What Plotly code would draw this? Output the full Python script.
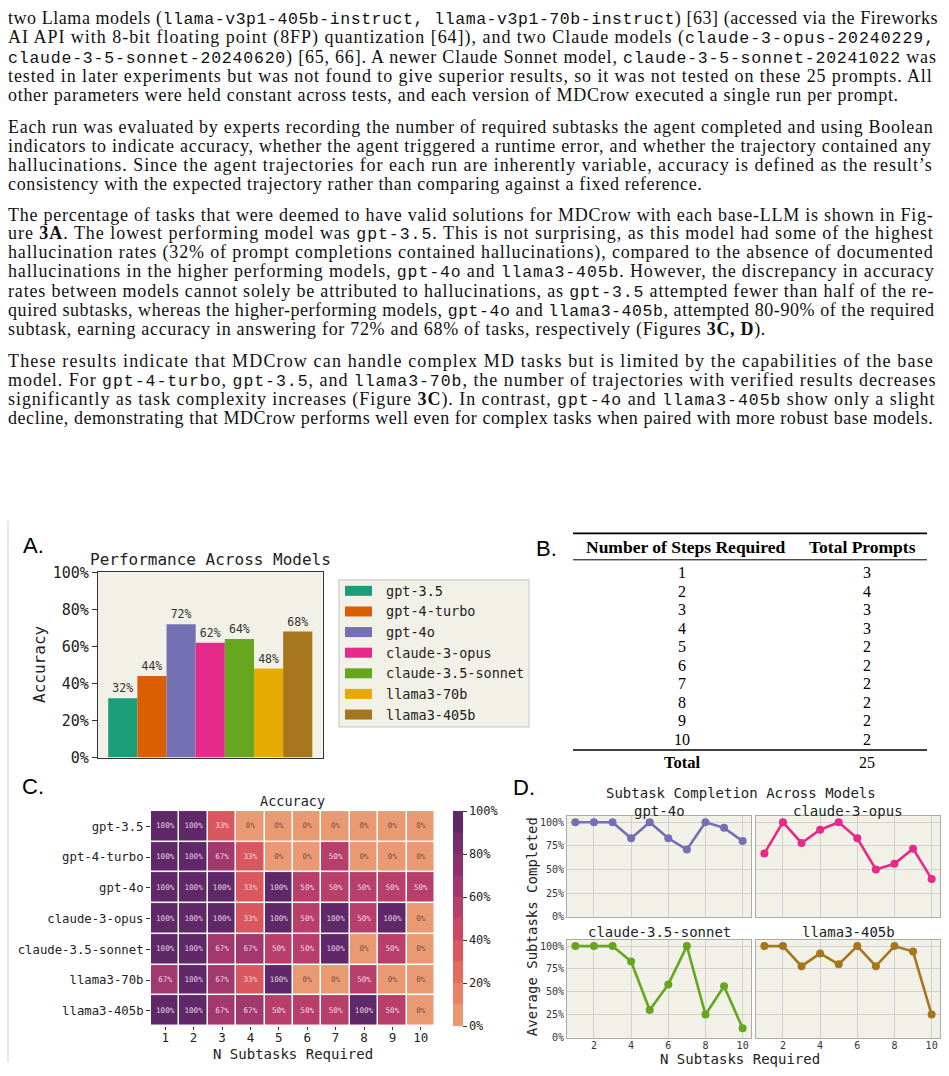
import re
import plotly.graph_objects as go

W, H = 949, 1076


def fx(p):
    return p / W


def fy(p):
    # small vertical stretch for the lower half of the page
    q = p + 0.018 * max(0.0, p - 550)
    return 1 - q / H


# ---------------------------------------------------------------- data
models = ["gpt-3.5", "gpt-4-turbo", "gpt-4o", "claude-3-opus",
          "claude-3.5-sonnet", "llama3-70b", "llama3-405b"]
accuracy = [0.32, 0.44, 0.72, 0.62, 0.64, 0.48, 0.68]
model_colors = ["#1b9e77", "#d95f02", "#7570b3", "#e7298a",
                "#66a61e", "#e6ab02", "#a6761d"]

steps_required = ["1", "2", "3", "4", "5", "6", "7", "8", "9", "10"]
total_prompts = [3, 4, 3, 3, 2, 2, 2, 2, 2, 2]

n_subtasks = [1, 2, 3, 4, 5, 6, 7, 8, 9, 10]
acc_gpt35 = [100, 100, 33, 0, 0, 0, 0, 0, 0, 0]
acc_gpt4turbo = [100, 100, 67, 33, 0, 0, 50, 0, 0, 0]
acc_gpt4o = [100, 100, 100, 33, 100, 50, 50, 50, 50, 50]
acc_opus = [100, 100, 100, 33, 100, 50, 100, 50, 100, 0]
acc_sonnet = [100, 100, 67, 67, 50, 50, 100, 0, 50, 0]
acc_llama70 = [67, 100, 67, 33, 100, 0, 0, 50, 0, 0]
acc_llama405 = [100, 100, 67, 67, 50, 50, 50, 100, 50, 0]
heat_rows = [acc_gpt35, acc_gpt4turbo, acc_gpt4o, acc_opus,
             acc_sonnet, acc_llama70, acc_llama405]

sub_models = ["gpt-4o", "claude-3-opus", "claude-3.5-sonnet", "llama3-405b"]
sub_gpt4o = [1.00, 1.00, 1.00, 0.83, 1.00, 0.83, 0.71, 1.00, 0.94, 0.80]
sub_opus = [0.67, 1.00, 0.78, 0.92, 1.00, 0.83, 0.50, 0.56, 0.72, 0.40]
sub_sonnet = [1.00, 1.00, 1.00, 0.83, 0.30, 0.58, 1.00, 0.25, 0.56, 0.10]
sub_llama405 = [1.00, 1.00, 0.78, 0.92, 0.80, 1.00, 0.78, 1.00, 0.94, 0.25]
sub_values = [sub_gpt4o, sub_opus, sub_sonnet, sub_llama405]

paragraphs = [
    [
        "two Llama models (`llama-v3p1-405b-instruct, llama-v3p1-70b-instruct`) [63] (accessed via the Fireworks",
        "AI API with 8-bit floating point (8FP) quantization [64]), and two Claude models (`claude-3-opus-20240229,`",
        "`claude-3-5-sonnet-20240620`) [65, 66]. A newer Claude Sonnet model, `claude-3-5-sonnet-20241022` was",
        "tested in later experiments but was not found to give superior results, so it was not tested on these 25 prompts. All",
        "other parameters were held constant across tests, and each version of MDCrow executed a single run per prompt.",
    ],
    [
        "Each run was evaluated by experts recording the number of required subtasks the agent completed and using Boolean",
        "indicators to indicate accuracy, whether the agent triggered a runtime error, and whether the trajectory contained any",
        "hallucinations. Since the agent trajectories for each run are inherently variable, accuracy is defined as the result\u2019s",
        "consistency with the expected trajectory rather than comparing against a fixed reference.",
    ],
    [
        "The percentage of tasks that were deemed to have valid solutions for MDCrow with each base-LLM is shown in Fig-",
        "ure **3A**. The lowest performing model was `gpt-3.5`. This is not surprising, as this model had some of the highest",
        "hallucination rates (32% of prompt completions contained hallucinations), compared to the absence of documented",
        "hallucinations in the higher performing models, `gpt-4o` and `llama3-405b`. However, the discrepancy in accuracy",
        "rates between models cannot solely be attributed to hallucinations, as `gpt-3.5` attempted fewer than half of the re-",
        "quired subtasks, whereas the higher-performing models, `gpt-4o` and `llama3-405b`, attempted 80-90% of the required",
        "subtask, earning accuracy in answering for 72% and 68% of tasks, respectively (Figures **3C, D**).",
    ],
    [
        "These results indicate that MDCrow can handle complex MD tasks but is limited by the capabilities of the base",
        "model. For `gpt-4-turbo`, `gpt-3.5`, and `llama3-70b`, the number of trajectories with verified results decreases",
        "significantly as task complexity increases (Figure **3C**). In contrast, `gpt-4o` and `llama3-405b` show only a slight",
        "decline, demonstrating that MDCrow performs well even for complex tasks when paired with more robust base models.",
    ],
]
# right edge of each line in the reference page (px)
line_ends = [
    [941, 941, 941, 941, 906],
    [941, 941, 941, 708],
    [941, 941, 941, 941, 941, 941, 772],
    [941, 941, 941, 941],
]
para_top = [10, 120, 209, 358]
LINE_H = 19.45

# ---------------------------------------------------------------- styles
MONO = "DejaVu Sans Mono"
SERIF = "Liberation Serif"
SANS = "Liberation Sans"
BEIGE = "#f2f1e7"
INK = "#222222"

# Times-compatible advance widths (1/1000 em)
TW = {' ': 250, '!': 333, '%': 833, "'": 333, '(': 333, ')': 333, ',': 250,
      '-': 333, '.': 250, '/': 278, ':': 278, ';': 278, '?': 444, '[': 333,
      ']': 333, '\u2019': 333}
for d in "0123456789":
    TW[d] = 500
for ch, w in zip("ABCDEFGHIJKLMNOPQRSTUVWXYZ",
                 [722, 667, 667, 722, 611, 556, 722, 722, 333, 389, 722, 611, 889,
                  722, 722, 556, 722, 667, 556, 611, 722, 722, 944, 722, 722, 611]):
    TW[ch] = w
for ch, w in zip("abcdefghijklmnopqrstuvwxyz",
                 [444, 500, 444, 500, 444, 333, 500, 500, 278, 278, 500, 278, 778,
                  500, 500, 500, 500, 333, 389, 278, 500, 500, 722, 500, 500, 444]):
    TW[ch] = w
TWB = dict(TW)
TWB.update({'A': 722, 'C': 722, 'D': 722})

SERIF_PX = 18.0
MONO_PX = 16.5
FUDGE = 1.01


def seg_width(text, kind):
    if kind == 'm':
        return len(text) * 0.6 * MONO_PX
    table = TWB if kind == 'b' else TW
    return sum(table.get(c, 500) for c in text) * SERIF_PX / 1000 * FUDGE


def build_line(line, target):
    parts = [p for p in re.split(r'(`[^`]*`|\*\*[^*]*\*\*)', line) if p]
    segs = []
    for p in parts:
        if p.startswith('`'):
            segs.append((p[1:-1], 'm'))
        elif p.startswith('**'):
            segs.append((p[2:-2], 'b'))
        else:
            segs.append((p, 'r'))
    natural = sum(seg_width(t, k) for t, k in segs)
    nchar = sum(len(t) for t, k in segs)
    ls = (target - natural) / nchar
    html = ""
    for t, k in segs:
        st = "letter-spacing:%.3fpx" % ls
        if k == 'm':
            st += ";font-family:Liberation Mono;font-size:%.1fpx" % MONO_PX
        elif k == 'b':
            st += ";font-weight:bold"
        html += '<span style="%s">%s</span>' % (st, t)
    return html


fig = go.Figure()
annotations = []
shapes = []


def ann(text, x, y, size, family=MONO, xanchor="center", yanchor="middle",
        angle=0, color=INK):
    annotations.append(dict(text=text, x=fx(x), y=fy(y), xref="paper", yref="paper",
                            showarrow=False, xanchor=xanchor, yanchor=yanchor,
                            textangle=angle, font=dict(family=family, size=size, color=color)))


# ---------------------------------------------------------------- page text
for pi, para in enumerate(paragraphs):
    for li, line in enumerate(para):
        x0 = 7
        html = build_line(line, line_ends[pi][li] - x0)
        annotations.append(dict(text=html, x=fx(x0), y=fy(para_top[pi] + li * LINE_H),
                                xref="paper", yref="paper", showarrow=False,
                                xanchor="left", yanchor="middle", borderpad=0,
                                font=dict(family=SERIF, size=SERIF_PX, color="#111111")))

# figure frame line at left
shapes.append(dict(type="line", xref="paper", yref="paper", x0=fx(8), x1=fx(8),
                   y0=fy(520), y1=fy(1062), line=dict(color="#cfcfcf", width=1)))

# ---------------------------------------------------------------- panel A
fig.add_trace(go.Bar(x=models, y=accuracy, marker=dict(color=model_colors, line=dict(width=0)),
                     width=1.0, texttemplate="%{y:.0%}", textposition="outside",
                     textfont=dict(family=MONO, size=11.5, color="#333333"),
                     cliponaxis=False, xaxis="x", yaxis="y", hoverinfo="skip"))
axA = dict(showline=True, mirror=True, linecolor="#333333", linewidth=1.3,
           showgrid=False, zeroline=False)
fig.update_layout(
    xaxis=dict(domain=[fx(98), fx(322.5)], anchor="y", range=[-0.85, 6.85],
               showticklabels=False, ticks="", **axA),
    yaxis=dict(domain=[fy(757.5), fy(572.5)], anchor="x", range=[0, 1],
               tickvals=[0, 0.2, 0.4, 0.6, 0.8, 1.0], tickformat=".0%",
               ticks="outside", ticklen=5, tickcolor="#333333",
               tickfont=dict(family=MONO, size=15, color=INK), **axA),
)
ann("A.", 33, 546, 22, family=SANS, color="#000000")
ann("Performance Across Models", 210, 559.5, 16)
ann("Accuracy", 40, 665, 16, angle=-90)

# legend box (built from the model list)
shapes.append(dict(type="rect", xref="paper", yref="paper", x0=fx(339), x1=fx(529),
                   y0=fy(727), y1=fy(580), fillcolor=BEIGE,
                   line=dict(color="#cccccc", width=1.2)))
for i, (m, c) in enumerate(zip(models, model_colors)):
    yc = 591 + 20.6 * i
    shapes.append(dict(type="rect", xref="paper", yref="paper", x0=fx(345), x1=fx(372),
                       y0=fy(yc + 5), y1=fy(yc - 5), fillcolor=c, line=dict(width=0)))
    ann(m, 384, yc, 13.5, xanchor="left")

# ---------------------------------------------------------------- panel B (table)
ann("B.", 546, 549, 22, family=SANS, color="#000000")
shapes.append(dict(type="line", xref="paper", yref="paper", x0=fx(573), x1=fx(927),
                   y0=fy(533.3), y1=fy(533.3), line=dict(color="#000000", width=1.6)))
shapes.append(dict(type="line", xref="paper", yref="paper", x0=fx(573), x1=fx(927),
                   y0=fy(560), y1=fy(560), line=dict(color="#000000", width=1)))
shapes.append(dict(type="line", xref="paper", yref="paper", x0=fx(573), x1=fx(927),
                   y0=fy(750), y1=fy(750), line=dict(color="#000000", width=1.3)))
ann("<b>Number of Steps Required</b>", 685.5, 547, 17.5, family=SERIF, color="#000000")
ann("<b>Total Prompts</b>", 862.5, 547, 17.5, family=SERIF, color="#000000")
for i, (s, n) in enumerate(zip(steps_required, total_prompts)):
    yr = 573 + 18.45 * i
    ann(s, 681.5, yr, 16, family=SERIF, color="#000000")
    ann(str(n), 867, yr, 16, family=SERIF, color="#000000")
ann("<b>Total</b>", 682, 762, 16.5, family=SERIF, color="#000000")
ann(str(sum(total_prompts)), 867, 762, 16, family=SERIF, color="#000000")

# ---------------------------------------------------------------- panel C (heatmap)
flare = [(0.0, (237, 176, 129)), (0.143, (233, 141, 107)), (0.286, (227, 104, 92)),
         (0.429, (209, 74, 97)), (0.571, (177, 60, 108)), (0.714, (143, 51, 113)),
         (0.857, (108, 43, 109)), (1.0, (75, 35, 98))]


def flare_at(t):
    for (a, ca), (b, cb) in zip(flare[:-1], flare[1:]):
        if a <= t <= b:
            u = (t - a) / (b - a)
            return tuple(ca[k] + (cb[k] - ca[k]) * u for k in range(3))
    return flare[-1][1]


NB = 10
band_rgb = [flare_at((i + 1) / (NB + 1)) for i in range(NB)]
band_css = ["rgb(%d,%d,%d)" % tuple(round(v) for v in c) for c in band_rgb]
cscale = []
for i, c in enumerate(band_css):
    cscale.append([i / NB, c])
    cscale.append([(i + 1) / NB, c])


def lum(c):
    def ch(v):
        v = v / 255
        return v / 12.92 if v <= 0.03928 else ((v + 0.055) / 1.055) ** 2.4
    return 0.2126 * ch(c[0]) + 0.7152 * ch(c[1]) + 0.0722 * ch(c[2])


hm_top, hm_bot = 811, 1026
fig.add_trace(go.Heatmap(z=heat_rows, x=n_subtasks, y=models, zmin=0, zmax=100,
                         colorscale=cscale, xgap=1.5, ygap=1.5, hoverinfo="skip",
                         xaxis="x2", yaxis="y2",
                         colorbar=dict(x=fx(452.7), xanchor="left", xpad=0, ypad=0,
                                       y=(fy(hm_top) + fy(hm_bot)) / 2, yanchor="middle",
                                       len=fy(hm_top) - fy(hm_bot), lenmode="fraction",
                                       thickness=10, outlinewidth=0,
                                       ticks="outside", ticklen=4, tickcolor="#333333",
                                       tickvals=[0, 20, 40, 60, 80, 100],
                                       ticktext=["0%", "20%", "40%", "60%", "80%", "100%"],
                                       tickfont=dict(family=MONO, size=12, color=INK))))
tx, ty, tt, tc = [], [], [], []
for m, row in zip(models, heat_rows):
    for x, v in zip(n_subtasks, row):
        tx.append(x)
        ty.append(m)
        tt.append("%d%%" % v)
        b = min(int(v / 100 * NB), NB - 1)
        tc.append("rgba(75,50,45,0.75)" if lum(band_rgb[b]) > 0.408 else "rgba(255,240,250,0.85)")
fig.add_trace(go.Scatter(x=tx, y=ty, text=tt, mode="text", xaxis="x2", yaxis="y2",
                         textfont=dict(family=MONO, size=7.6, color=tc), hoverinfo="skip"))
shapes.append(dict(type="rect", xref="x2", yref="y2", x0=0.5, x1=10.5, y0=-0.5, y1=6.5,
                   fillcolor="#ffffff", line=dict(width=0), layer="below"))
fig.update_layout(
    xaxis2=dict(domain=[fx(151), fx(435)], anchor="y2", range=[0.5, 10.5],
                tickvals=n_subtasks, ticks="outside", ticklen=3, tickcolor="#333333",
                ticklabelstandoff=-3,
                showgrid=False, zeroline=False, showline=False,
                tickfont=dict(family=MONO, size=12.5, color=INK)),
    yaxis2=dict(domain=[fy(hm_bot), fy(hm_top)], anchor="x2", categoryorder="array",
                categoryarray=models, autorange="reversed",
                ticks="outside", ticklen=4, tickcolor="#333333",
                showgrid=False, zeroline=False, showline=False,
                tickfont=dict(family=MONO, size=12.3, color=INK)),
)
ann("C.", 33, 786, 22, family=SANS, color="#000000")
ann("Accuracy", 292.5, 801, 13.5)
ann("N Subtasks Required", 293, 1054, 14)

# ---------------------------------------------------------------- panel D (small multiples)
ann("D.", 524, 787, 22, family=SANS, color="#000000")
ann("Subtask Completion Across Models", 741, 793, 14)
ann("Average Subtasks Completed", 532, 927, 14, angle=-90)
ann("N Subtasks Required", 740, 1059, 14)

cells = [((567, 751), (816, 917)), ((756, 940), (816, 917)),
         ((567, 751), (940, 1037.5)), ((756, 940), (940, 1037.5))]
title_y = [811, 811, 932, 932]
for k, (name, vals) in enumerate(zip(sub_models, sub_values)):
    ax_id = k + 3
    color = model_colors[models.index(name)]
    fig.add_trace(go.Scatter(x=n_subtasks, y=vals, mode="lines+markers",
                             line=dict(color=color, width=2.6),
                             marker=dict(color=color, size=8),
                             xaxis="x%d" % ax_id, yaxis="y%d" % ax_id,
                             cliponaxis=False, hoverinfo="skip"))
    (xl, xr), (yt, yb) = cells[k]
    bottom = k >= 2
    left = k % 2 == 0
    common = dict(showline=True, mirror=True, linecolor="#aaaaaa", linewidth=1,
                  showgrid=True, gridcolor="#d2d2d2", gridwidth=1, zeroline=False, ticks="")
    fig.update_layout({
        "xaxis%d" % ax_id: dict(domain=[fx(xl), fx(xr)], anchor="y%d" % ax_id,
                                range=[0.55, 10.45], tickvals=[2, 4, 6, 8, 10],
                                showticklabels=bottom, ticklabelstandoff=-2,
                                tickfont=dict(family=MONO, size=10, color="#333333"),
                                **common),
        "yaxis%d" % ax_id: dict(domain=[fy(yb), fy(yt)], anchor="x%d" % ax_id,
                                range=[-0.005, 1.065], tickvals=[0, 0.25, 0.5, 0.75, 1.0],
                                tickformat=".0%", showticklabels=left,
                                tickfont=dict(family=MONO, size=10, color="#333333"),
                                **common),
    })
    ann(name, (xl + xr) / 2, title_y[k], 14)

fig.update_layout(width=W, height=H, margin=dict(l=0, r=0, t=0, b=0),
                  paper_bgcolor="#ffffff", plot_bgcolor=BEIGE, showlegend=False,
                  annotations=annotations, shapes=shapes,
                  font=dict(family=MONO, color=INK))

page_css = ("var d=document.documentElement,b=document.body;"
            "[d,b].forEach(function(e){e.style.margin='0px';e.style.padding='0px';"
            "e.style.overflow='hidden';e.style.height='%dpx';});"
            "b.style.fontSize='0px';b.style.lineHeight='0px';" % H)
fig.write_html("out.html", config={"displayModeBar": False}, post_script=page_css)
